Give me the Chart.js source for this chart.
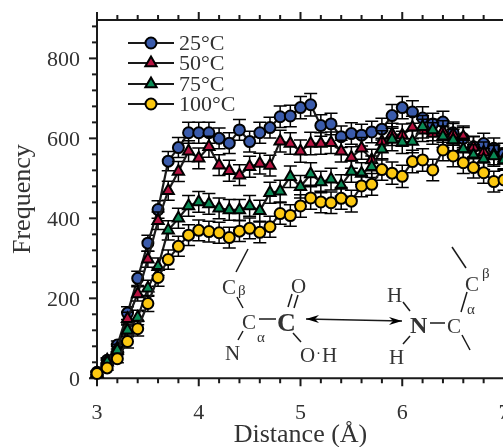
<!DOCTYPE html>
<html>
<head>
<meta charset="utf-8">
<title>Frequency vs distance</title>
<script src="https://cdn.jsdelivr.net/npm/chart.js@4"></script>
<style>
  html, body { margin: 0; padding: 0; background: #fff; overflow: hidden; }
  #wrap { width: 530px; height: 447px; position: relative; }
  canvas { display: block; }
</style>
</head>
<body>
<div id="wrap"><canvas id="chart" width="530" height="447"></canvas></div>
<script>
// Values, one per 0.1 A from 3.0 to 7.0
const distance = [3.0, 3.1, 3.2, 3.3, 3.4, 3.5, 3.6, 3.7, 3.8, 3.9, 4.0, 4.1, 4.2, 4.3, 4.4, 4.5, 4.6, 4.7, 4.8, 4.9, 5.0,
  5.1, 5.2, 5.3, 5.4, 5.5, 5.6, 5.7, 5.8, 5.9, 6.0, 6.1, 6.2, 6.3, 6.4, 6.5, 6.6, 6.7, 6.8, 6.9, 7.0];
const temp25 = [15, 45, 83, 163, 250, 338, 422, 543, 577, 614, 614, 614, 600, 588, 621, 592, 614, 627, 654, 656, 677,
  684, 632, 636, 604, 612, 608, 616, 623, 657, 677, 666, 651, 636, 641, 614, 600, 579, 587, 575, 562];
const temp50 = [12, 45, 75, 149, 211, 298, 394, 469, 517, 568, 550, 579, 533, 519, 508, 529, 537, 532, 593, 587, 568,
  587, 587, 589, 568, 552, 575, 546, 592, 610, 608, 627, 620, 612, 617, 610, 604, 578, 565, 560, 550];
const temp75 = [12, 40, 70, 120, 152, 225, 279, 370, 400, 431, 441, 436, 425, 421, 421, 431, 419, 464, 468, 504, 479,
  511, 491, 498, 482, 517, 512, 529, 573, 597, 590, 592, 629, 621, 604, 596, 573, 558, 548, 556, 546];
const temp100 = [12, 26, 49, 92, 124, 187, 252, 297, 330, 358, 370, 367, 364, 352, 368, 375, 365, 379, 412, 407, 431,
  451, 441, 439, 450, 443, 481, 485, 522, 513, 505, 542, 546, 521, 571, 556, 539, 527, 514, 492, 496];
const errorBar = [4, 6, 10, 16, 18, 20, 22, 24, 25, 26, 26, 26, 26, 26, 26, 26, 26, 26, 27, 27, 28,
  28, 27, 27, 27, 27, 27, 27, 27, 28, 28, 28, 28, 27, 27, 27, 27, 26, 26, 26, 26];
const seriesLabels = ['25\u00B0C', '50\u00B0C', '75\u00B0C', '100\u00B0C'];
const xMajorTicks = [3, 4, 5, 6, 7];
const xMinorTicks = [3.2, 3.4, 3.6, 3.8, 4.2, 4.4, 4.6, 4.8, 5.2, 5.4, 5.6, 5.8, 6.2, 6.4, 6.6, 6.8];
const yMajorTicks = [0, 200, 400, 600, 800];
const yMinorTicks = [40, 80, 120, 160, 240, 280, 320, 360, 440, 480, 520, 560, 640, 680, 720, 760, 840, 880];

const ink = '#1a1a1a';
const textInk = '#333';
const serif = '"Liberation Serif", serif';

// Structure drawn inside the plot, in page pixels
const bondLines = [
  [248, 249, 236, 272], [237, 297, 243, 308], [243, 331, 238, 340], [259, 319, 276, 319],
  [298, 295, 294, 308], [292, 294, 288, 307], [293, 333, 301, 342],
  [403, 302, 410, 311], [410, 336, 403, 344], [430, 323, 445, 323],
  [467, 292, 461, 312], [452, 247, 466, 268], [462, 335, 470, 350]
];
const structureLabels = [
  ['C', 222, 294, 21, ''], ['\u03B2', 238, 295, 15, ''], ['C', 242, 329, 21, ''], ['\u03B1', 257, 342, 15, ''],
  ['N', 225, 360, 21, ''], ['C', 277, 331, 26, 'bold '], ['O', 291, 293, 21, ''], ['O', 300, 362, 21, ''],
  ['\u00B7', 316, 358, 15, ''], ['H', 322, 362, 21, ''], ['H', 387, 302, 21, ''], ['H', 389, 364, 21, ''],
  ['N', 410, 333, 24, 'bold '], ['C', 447, 333, 21, ''], ['C', 465, 291, 21, ''], ['\u03B2', 482, 278, 15, ''],
  ['\u03B1', 467, 314, 15, '']
];
const arrowLine = [306, 319, 402, 321];
const legendRows = [43, 63, 84, 104];

function makeSeries(label, values, fill, style, order) {
  return {
    label: label,
    data: values.map(function (v, i) { return { x: distance[i], y: v }; }),
    borderColor: ink,
    borderWidth: 2.2,
    backgroundColor: fill,
    pointBackgroundColor: fill,
    pointBorderColor: '#000',
    pointBorderWidth: 2,
    pointStyle: style,
    pointRadius: style === 'circle' ? 5.5 : 6.5,
    pointHoverRadius: style === 'circle' ? 5.5 : 6.5,
    tension: 0,
    clip: false,
    order: order
  };
}

// Error bars go under each series' own markers
const errorBarsPlugin = {
  id: 'errorBars',
  beforeDatasetDraw: function (chart, args) {
    const ctx = chart.ctx;
    const points = chart.data.datasets[args.index].data;
    const xs = chart.scales.x;
    const ys = chart.scales.y;
    ctx.save();
    ctx.strokeStyle = '#000';
    ctx.lineWidth = 1.5;
    points.forEach(function (p, i) {
      const px = xs.getPixelForValue(p.x);
      const top = ys.getPixelForValue(p.y + errorBar[i]);
      const bottom = ys.getPixelForValue(p.y - errorBar[i]);
      ctx.beginPath();
      ctx.moveTo(px, top);
      ctx.lineTo(px, bottom);
      ctx.moveTo(px - 6.5, top);
      ctx.lineTo(px + 6.5, top);
      ctx.moveTo(px - 6.5, bottom);
      ctx.lineTo(px + 6.5, bottom);
      ctx.stroke();
    });
    ctx.restore();
  }
};

// Axis lines and ticks, Chart.js only has one tick length per axis
const framePlugin = {
  id: 'frame',
  beforeDatasetsDraw: function (chart) {
    const ctx = chart.ctx;
    const area = chart.chartArea;
    const xs = chart.scales.x;
    const ys = chart.scales.y;
    ctx.save();
    ctx.strokeStyle = ink;
    ctx.lineWidth = 2;
    ctx.lineCap = 'square';
    ctx.beginPath();
    ctx.moveTo(area.left, area.bottom);
    ctx.lineTo(area.left, area.top);
    ctx.lineTo(area.right, area.top);
    ctx.lineTo(area.right, area.bottom);
    ctx.closePath();
    ctx.stroke();
    ctx.lineCap = 'butt';
    function xTick(v, len) {
      const px = xs.getPixelForValue(v);
      ctx.beginPath();
      ctx.moveTo(px, area.bottom);
      ctx.lineTo(px, area.bottom + len);
      ctx.moveTo(px, area.top);
      ctx.lineTo(px, area.top - len);
      ctx.stroke();
    }
    function yTick(v, len) {
      const py = ys.getPixelForValue(v);
      ctx.beginPath();
      ctx.moveTo(area.left, py);
      ctx.lineTo(area.left - len, py);
      ctx.stroke();
    }
    xMajorTicks.forEach(function (v) { xTick(v, 8); });
    xMinorTicks.forEach(function (v) { xTick(v, 5); });
    yMajorTicks.forEach(function (v) { yTick(v, 8); });
    yMinorTicks.forEach(function (v) { yTick(v, 5); });
    ctx.restore();
  }
};

const legendPlugin = {
  id: 'insetLegend',
  afterDatasetsDraw: function (chart) {
    const ctx = chart.ctx;
    ctx.save();
    chart.data.datasets.forEach(function (ds, i) {
      const y = legendRows[i];
      ctx.strokeStyle = ink;
      ctx.lineWidth = 2.2;
      ctx.beginPath();
      ctx.moveTo(128, y);
      ctx.lineTo(174, y);
      ctx.stroke();
      ctx.fillStyle = ds.backgroundColor;
      ctx.strokeStyle = '#000';
      ctx.lineWidth = ds.pointBorderWidth;
      Chart.helpers.drawPoint(ctx, { pointStyle: ds.pointStyle, radius: ds.pointRadius, rotation: 0, borderWidth: ds.pointBorderWidth }, 151, y);
      ctx.fillStyle = textInk;
      ctx.font = '22px ' + serif;
      ctx.textBaseline = 'alphabetic';
      ctx.fillText(ds.label, 179, y + 7);
    });
    ctx.restore();
  }
};

const structurePlugin = {
  id: 'structure',
  afterDatasetsDraw: function (chart) {
    const ctx = chart.ctx;
    ctx.save();
    ctx.strokeStyle = ink;
    ctx.lineWidth = 1.5;
    bondLines.forEach(function (b) {
      ctx.beginPath();
      ctx.moveTo(b[0], b[1]);
      ctx.lineTo(b[2], b[3]);
      ctx.stroke();
    });
    ctx.fillStyle = textInk;
    ctx.textBaseline = 'alphabetic';
    structureLabels.forEach(function (t) {
      ctx.font = t[4] + t[3] + 'px ' + serif;
      ctx.fillText(t[0], t[1], t[2]);
    });
    // double headed arrow
    const a = arrowLine;
    ctx.fillStyle = '#000';
    ctx.beginPath();
    ctx.moveTo(a[0], a[1]);
    ctx.lineTo(a[2], a[3]);
    ctx.stroke();
    ctx.beginPath();
    ctx.moveTo(a[0], a[1]);
    ctx.lineTo(a[0] + 13, a[1] - 4);
    ctx.lineTo(a[0] + 9, a[1]);
    ctx.lineTo(a[0] + 13, a[1] + 4);
    ctx.closePath();
    ctx.fill();
    ctx.beginPath();
    ctx.moveTo(a[2], a[3]);
    ctx.lineTo(a[2] - 13, a[3] - 4);
    ctx.lineTo(a[2] - 9, a[3]);
    ctx.lineTo(a[2] - 13, a[3] + 4);
    ctx.closePath();
    ctx.fill();
    ctx.restore();
  }
};

new Chart(document.getElementById('chart'), {
  type: 'line',
  data: {
    datasets: [
      makeSeries(seriesLabels[0], temp25, '#3a5bab', 'circle', 4),
      makeSeries(seriesLabels[1], temp50, '#b5123f', 'triangle', 3),
      makeSeries(seriesLabels[2], temp75, '#0a8a55', 'triangle', 2),
      makeSeries(seriesLabels[3], temp100, '#fcc811', 'circle', 1)
    ]
  },
  options: {
    responsive: false,
    animation: false,
    layout: { autoPadding: false, padding: { top: 20, right: 26, left: 0, bottom: 0 } },
    plugins: { legend: { display: false }, tooltip: { enabled: false } },
    scales: {
      x: {
        type: 'linear',
        min: 3,
        max: 7,
        afterFit: function (scale) {
          scale.height = 68.7;
          scale.paddingLeft = 0;
          scale.paddingRight = 0;
        },
        border: { display: false },
        grid: { display: false, drawTicks: false },
        ticks: {
          stepSize: 1,
          includeBounds: false,
          padding: 22,
          maxRotation: 0,
          color: textInk,
          font: { family: serif, size: 22 }
        },
        title: {
          display: true,
          text: 'Distance (\u00C5)',
          color: textInk,
          font: { family: serif, size: 26 },
          padding: { top: 0, bottom: -4 }
        }
      },
      y: {
        min: 0,
        max: 896,
        afterFit: function (scale) {
          scale.width = 97;
          scale.paddingTop = 0;
          scale.paddingBottom = 0;
        },
        border: { display: false },
        grid: { display: false, drawTicks: false },
        ticks: {
          stepSize: 200,
          includeBounds: false,
          padding: 17,
          labelOffset: 1.5,
          color: textInk,
          font: { family: serif, size: 22 }
        },
        title: {
          display: true,
          text: 'Frequency',
          color: textInk,
          font: { family: serif, size: 26 },
          padding: { top: 8, bottom: 0 }
        }
      }
    }
  },
  plugins: [framePlugin, errorBarsPlugin, legendPlugin, structurePlugin]
});
</script>
</body>
</html>
